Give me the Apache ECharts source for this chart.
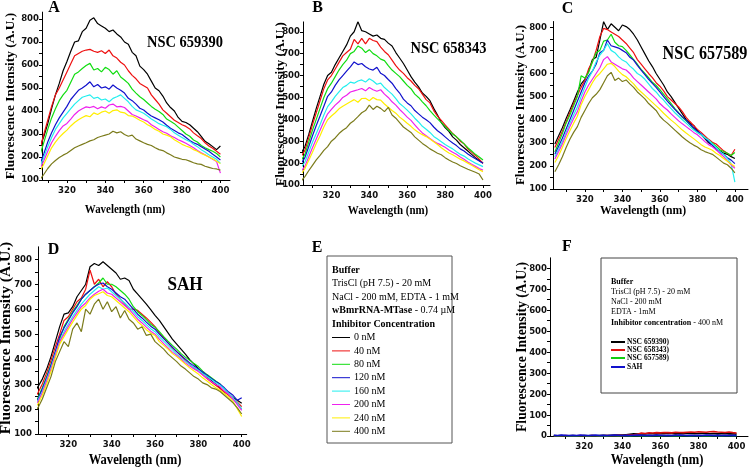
<!DOCTYPE html>
<html><head><meta charset="utf-8">
<script src="https://cdn.jsdelivr.net/npm/echarts@6/dist/echarts.min.js"></script>
<style>html,body{margin:0;padding:0;background:#fff}#c{width:750px;height:468px}</style>
</head><body><div id="c"></div><script>
// ---- data ----
const wavelengths = [304,306,308,310,312,314,316,318,320,322,324,326,328,330,332,334,336,338,340,342,344,346,348,350,352,354,356,358,360,362,364,366,368,370,372,374,376,378,380,382,384,386,388,390,392,394,396,398,400];
const concentrations = ['0 nM','40 nM','80 nM','120 nM','160 nM','200 nM','240 nM','400 nM'];
const compounds = ['NSC 659390)','NSC 658343)','NSC 657589)','SAH'];
const xTickLabels = [320,340,360,380,400];
const xTicks = [310,320,330,340,350,360,370,380,390,400];
const yTickLabels = [100,200,300,400,500,600,700,800];
const yTicks = [100,150,200,250,300,350,400,450,500,550,600,650,700,750,800];
const fYTickLabels = [0,100,200,300,400,500,600,700,800];
const fYTicks = [0,50,100,150,200,250,300,350,400,450,500,550,600,650,700,750,800];

// Panel A: NSC 659390
const A_0   = [215,245,290,345,410,470,520,575,615,660,700,705,745,760,795,805,780,770,760,745,752,735,722,700,690,655,640,595,580,560,530,500,488,465,435,415,400,372,355,350,340,325,310,290,268,258,245,232,248];
const A_40  = [205,238,300,360,420,470,500,535,570,605,640,650,660,665,668,660,655,662,650,665,640,630,612,600,575,555,540,520,510,500,470,450,430,405,390,375,360,350,340,333,322,305,292,280,262,248,238,225,212];
const A_80  = [180,210,265,320,370,410,445,470,490,525,560,570,585,598,607,578,585,570,590,580,560,575,548,535,520,495,478,462,450,435,420,408,398,385,365,355,345,330,315,300,290,274,265,250,240,232,225,215,200];
const A_120 = [145,170,215,265,305,340,370,395,420,450,470,490,500,512,527,505,515,500,505,495,513,500,490,478,455,445,430,412,404,390,378,370,362,352,338,325,315,305,298,285,272,262,255,245,235,225,212,200,187];
const A_160 = [135,158,200,245,285,320,345,370,390,410,430,445,460,465,470,455,460,448,452,440,455,462,470,455,440,420,405,398,390,378,365,355,345,338,332,320,305,295,285,275,268,255,245,232,222,210,200,190,172];
const A_200 = [125,150,185,225,262,290,315,335,346,365,385,400,410,418,415,420,410,418,412,426,430,418,420,415,400,385,378,370,362,355,340,330,320,310,303,292,285,275,268,260,250,240,228,218,210,200,190,180,130];
const A_240 = [118,140,170,205,240,265,285,302,317,335,350,362,372,380,375,392,385,395,400,390,402,405,395,392,380,378,370,360,352,340,332,320,312,300,295,288,275,265,255,248,242,232,225,215,208,200,192,182,172];
const A_400 = [85,102,125,150,170,185,198,208,216,228,240,248,255,262,270,275,285,290,295,300,312,305,310,298,290,295,278,270,262,255,250,240,232,228,218,210,200,195,190,188,182,175,170,168,160,155,150,148,143];

// Panel B: NSC 658343
const B_0   = [245,275,330,390,450,505,560,600,615,650,680,710,740,780,800,846,805,800,790,780,785,770,765,748,735,705,680,655,625,595,570,548,520,505,485,450,420,385,362,345,320,305,285,270,255,240,225,212,200];
const B_40  = [230,258,315,375,430,485,540,580,600,630,660,690,705,720,765,745,770,745,770,760,755,730,710,695,670,645,625,610,590,575,555,540,515,490,475,440,415,395,375,355,335,320,300,288,265,250,235,218,199];
const B_80  = [212,240,295,350,400,450,500,540,565,595,625,650,670,700,710,735,725,705,718,700,690,675,668,645,625,610,595,575,555,540,515,500,480,462,440,420,402,385,368,350,333,320,305,288,270,255,240,228,214];
const B_120 = [198,225,275,325,372,415,460,505,525,555,580,600,620,640,662,650,655,640,630,625,638,610,600,582,565,540,520,492,475,462,440,425,410,398,385,365,348,335,320,305,292,280,265,255,242,230,220,210,199];
const B_160 = [180,205,250,295,335,375,420,458,480,505,525,545,555,570,565,575,580,570,585,575,560,565,545,530,515,495,472,458,442,425,405,388,368,355,340,322,310,298,285,275,265,252,240,232,220,210,200,192,184];
const B_200 = [162,185,228,270,310,350,390,425,445,465,480,500,510,525,530,535,541,530,545,535,528,535,515,500,480,465,445,428,410,395,375,355,338,325,312,300,290,282,272,260,250,240,228,218,205,195,185,175,168];
const B_240 = [150,175,212,250,290,325,365,398,415,430,448,460,470,480,490,478,495,496,485,500,490,488,470,455,440,428,410,397,382,368,352,340,330,321,310,298,285,270,258,246,238,228,218,210,200,190,180,170,161];
const B_400 = [118,138,165,190,215,235,258,275,300,315,335,350,362,382,395,412,430,440,465,445,460,450,435,455,420,405,385,365,352,340,320,305,290,278,265,255,245,238,225,214,205,198,188,180,172,165,158,150,123];

// Panel C: NSC 657589
const C_0   = [295,330,365,405,442,480,520,555,575,610,660,670,745,824,790,815,800,785,810,803,790,770,745,715,685,655,630,600,575,550,520,500,475,450,425,400,385,375,352,335,318,300,290,270,265,255,250,240,232];
const C_40  = [280,315,350,390,430,470,505,540,570,620,650,700,760,795,790,780,770,760,745,730,710,690,660,640,620,600,582,560,545,525,500,485,470,455,435,410,392,375,358,345,330,315,302,295,280,265,255,245,272];
const C_80  = [260,300,340,385,420,460,500,590,580,605,650,690,700,740,745,770,735,720,716,700,680,660,640,618,600,582,562,548,530,510,490,470,448,430,410,395,380,360,345,335,322,310,298,285,270,262,255,245,258];
const C_120 = [250,285,320,360,400,440,480,520,560,590,610,640,690,700,745,720,715,710,700,690,670,658,635,615,595,575,557,540,520,500,480,462,445,428,412,398,380,365,350,338,320,305,290,275,260,250,235,225,210];
const C_160 = [240,272,305,345,385,420,455,500,540,580,610,650,680,700,730,700,690,672,658,650,632,618,600,590,575,555,535,520,500,485,465,448,430,415,400,385,370,355,345,335,322,312,295,280,262,250,232,210,130];
const C_200 = [230,262,295,335,370,405,435,480,520,550,575,600,625,660,673,650,640,630,620,615,600,580,565,550,535,520,505,490,470,455,442,425,410,395,382,370,358,345,335,320,305,292,283,270,255,240,222,205,190];
const C_240 = [215,245,280,318,352,385,415,465,500,530,560,585,600,620,640,644,630,610,595,586,570,555,535,520,505,490,475,460,445,428,413,398,385,370,355,342,330,318,305,292,282,275,268,255,245,232,220,208,197];
const C_400 = [175,205,240,280,315,345,370,410,440,470,495,510,530,560,590,605,570,580,565,572,555,540,520,505,490,470,455,440,415,398,385,370,355,340,325,312,300,290,282,270,262,256,250,238,225,212,205,190,170];

// Panel D: SAH
const D_0   = [260,290,320,360,410,470,530,580,585,610,650,675,700,770,783,775,790,775,760,745,720,725,715,680,660,640,620,598,575,555,530,505,480,460,440,420,398,380,362,345,330,315,300,285,268,258,245,235,223];
const D_40  = [240,265,300,345,395,450,500,555,570,600,630,645,680,757,700,720,690,710,690,660,640,620,600,600,595,580,565,548,530,505,485,465,445,430,412,395,380,365,352,338,322,308,295,282,268,255,240,228,210];
const D_80  = [225,245,285,330,380,430,480,530,560,590,615,640,660,675,690,705,725,700,700,690,675,660,640,610,590,575,558,540,528,510,490,472,455,440,422,408,395,382,370,352,338,325,312,300,280,262,242,222,200];
const D_120 = [222,240,280,325,375,430,490,525,555,585,610,640,660,675,690,700,705,690,680,665,650,640,620,600,580,565,548,532,520,500,482,465,448,430,415,400,385,372,360,348,335,322,310,300,285,268,255,235,245];
const D_160 = [218,235,270,318,365,420,470,510,540,570,595,620,640,660,675,690,680,685,670,655,640,625,608,590,570,555,538,522,510,490,472,455,438,420,405,392,378,366,355,342,330,318,305,295,280,262,245,225,200];
const D_200 = [212,230,265,312,360,415,470,500,530,560,585,610,625,645,660,672,680,665,660,645,630,615,600,580,560,545,528,512,500,480,462,445,428,415,400,385,372,360,350,336,322,310,298,290,272,258,240,218,195];
const D_240 = [200,220,255,300,350,405,460,490,520,548,575,600,615,640,655,662,670,655,650,635,620,605,590,570,550,535,518,505,495,470,455,440,422,410,395,380,365,352,340,325,312,298,285,275,262,248,230,200,170];
const D_400 = [190,205,240,285,330,390,430,470,450,520,545,510,600,580,620,640,600,630,590,610,565,595,560,545,520,530,495,500,470,455,440,420,405,390,372,360,345,330,320,305,298,285,280,270,255,240,225,205,180];

// Panel F: controls at 400 nM inhibitor (no enzyme)
const F_nsc659390 = [2,1,2,0,1,2,1,0,2,1,2,1,2,3,2,3,4,5,4,6,8,10,9,11,10,12,11,10,12,11,13,12,10,12,11,13,12,11,12,13,12,11,12,10,11,12,10,11,9];
const F_nsc658343 = [0,1,0,2,1,0,1,2,1,0,2,1,0,1,2,1,2,3,2,3,5,6,8,14,12,15,14,16,15,17,16,15,18,17,16,18,19,18,20,19,18,20,21,19,18,17,19,16,14];
const F_nsc657589 = [1,0,1,1,0,1,0,1,1,0,1,1,0,1,0,1,1,0,1,1,0,1,1,0,1,0,1,1,0,1,1,0,1,0,1,1,0,1,1,0,1,0,1,1,0,1,1,0,1];
const F_sah       = [3,2,4,3,2,3,2,4,3,2,3,4,2,3,2,3,4,3,2,3,2,3,4,3,2,3,2,4,3,2,3,2,3,4,3,2,3,2,3,2,4,3,2,3,2,3,2,3,2];

// ---- styling ----
const concColors = ['#000000','#ee1111','#11dd11','#1111cc','#22eeee','#ee22ee','#ffee00','#7b7b1b'];
const fColors = ['#000000','#dd1111','#11cc11','#1111cc'];
const serif = "'Liberation Serif','Times New Roman',serif";
const tickFont = "'Liberation Sans Narrow','DejaVu Sans Condensed','Liberation Sans',sans-serif";

const grids = [
  {left:42, top:12.1, width:188, height:167.9},
  {left:303, top:21.9, width:187, height:163.1},
  {left:553, top:21.5, width:195, height:167.5},
  {left:38, top:246.8, width:208.7, height:187.2},
  {left:550, top:257.8, width:198, height:178.2}
];
const xr = [[307,405],[305,403.7],[303,407],[306,402.3],[302,406]];
const yr = [[100,830],[100,845],[100,825],[100,850],[0,850]];
const yLabMargin = [3,3,6,6,3];

const xAxes = grids.map((g,i)=>({
  type:'value', gridIndex:i, min:xr[i][0], max:xr[i][1],
  axisLine:{show:true,onZero:false,lineStyle:{color:'#000',width:1}},
  axisTick:{show:true,inside:false,length:3,customValues:xTicks,lineStyle:{color:'#000'}},
  axisLabel:{customValues:xTickLabels,margin:6,fontSize:9.5,fontWeight:'bold',color:'#111',fontFamily:tickFont},
  splitLine:{show:false}
}));
const yAxes = grids.map((g,i)=>({
  type:'value', gridIndex:i, min:yr[i][0], max:yr[i][1],
  axisLine:{show:true,onZero:false,lineStyle:{color:'#000',width:1}},
  axisTick:{show:true,inside:false,length:3,customValues:(i===4?fYTicks:yTicks),lineStyle:{color:'#000'}},
  axisLabel:{customValues:(i===4?fYTickLabels:yTickLabels),margin:yLabMargin[i],fontSize:9.5,fontWeight:'bold',color:'#111',fontFamily:tickFont},
  splitLine:{show:false}
}));

function lineSeries(idx, values, color, width, name){
  return {type:'line', name:name, xAxisIndex:idx, yAxisIndex:idx,
    data: wavelengths.map((w,k)=>[w, values[k]]),
    showSymbol:false, symbol:'none', clip:true, silent:true,
    lineStyle:{color:color,width:width}, itemStyle:{color:color}};
}
const panels = [
  [A_0,A_40,A_80,A_120,A_160,A_200,A_240,A_400],
  [B_0,B_40,B_80,B_120,B_160,B_200,B_240,B_400],
  [C_0,C_40,C_80,C_120,C_160,C_200,C_240,C_400],
  [D_0,D_40,D_80,D_120,D_160,D_200,D_240,D_400]
];
const series = [];
panels.forEach((p,pi)=>p.forEach((vals,si)=>series.push(lineSeries(pi, vals, concColors[si], 1.2, concentrations[si]))));
[F_nsc659390,F_nsc658343,F_nsc657589,F_sah].forEach((vals,si)=>series.push(lineSeries(4, vals, fColors[si], 1.6, compounds[si])));

// ---- graphic texts ----
function txt(x,y,text,font,opts){
  opts = opts||{};
  return Object.assign({type:'text', x:x, y:y, silent:true,
    style:Object.assign({text:text, font:font, fill:'#000', align:opts.align||'center', verticalAlign:'middle', textAlign:opts.align||'center', textVerticalAlign:'middle'}, opts.style||{})},
    opts.el||{});
}
const g = [];
// panel letters
[['A',54,8],['B',317.5,8],['C',567.5,8.5],['D',53.5,250],['E',317,248],['F',567,247]].forEach(a=>g.push(txt(a[1],a[2],a[0],'bold 16px '+serif)));
// panel names
g.push(txt(185,43,'NSC 659390','bold 17px '+serif,{el:{scaleX:0.85}}));
g.push(txt(448.5,49,'NSC 658343','bold 17px '+serif,{el:{scaleX:0.85}}));
g.push(txt(705,54,'NSC 657589','bold 19px '+serif,{el:{scaleX:0.85}}));
g.push(txt(185,285,'SAH','bold 19px '+serif,{el:{scaleX:0.9}}));
// x titles
[[125,210,13,0.84],[388,211,13,0.84],[643,211,13,0.9],[135,460,14,0.9],[657,460,14,0.9]].forEach(a=>g.push(txt(a[0],a[1],'Wavelength (nm)','bold '+a[2]+'px '+serif,{el:{scaleX:a[3]}})));
// y titles
[[11,96,13.4],[280.5,104,13.2],[520.5,105,12.9],[6,338,15.5],[522.5,347,13.7]].forEach(a=>g.push(txt(a[0],a[1],'Fluorescence Intensity (A.U.)','bold '+a[2]+'px '+serif,{el:{rotation:Math.PI/2}})));

// Panel E legend box
g.push({type:'rect', shape:{x:327,y:256,width:125,height:187}, style:{fill:'#fff',stroke:'#555',lineWidth:1}, silent:true});
const eFont = '10px '+serif, eBold = 'bold 10px '+serif;
g.push(txt(332,270,'Buffer',eBold,{align:'left'}));
g.push(txt(332,283.5,'TrisCl (pH 7.5) - 20 mM',eFont,{align:'left'}));
g.push(txt(332,297,'NaCl - 200 mM, EDTA - 1 mM',eFont,{align:'left'}));
g.push(txt(332,310.5,'{b|wBmrRNA-MTase} - 0.74 \u00b5M',eFont,{align:'left',style:{rich:{b:{font:eBold}}}}));
g.push(txt(332,324,'Inhibitor Concentration',eBold,{align:'left'}));
concentrations.forEach((c,k)=>{
  const y = 337.5 + 13.4*k;
  g.push({type:'line', shape:{x1:332,y1:y,x2:350,y2:y}, style:{stroke:concColors[k],lineWidth:1}, silent:true});
  g.push(txt(354,y,c,eFont,{align:'left'}));
});

// Panel F legend box
g.push({type:'rect', shape:{x:601,y:258,width:136,height:135}, style:{fill:'#fff',stroke:'#444',lineWidth:1}, silent:true});
const fFont = '8px '+serif, fBold = 'bold 8px '+serif;
g.push(txt(611,282,'Buffer',fBold,{align:'left'}));
g.push(txt(611,292,'TrisCl (pH 7.5) - 20 mM',fFont,{align:'left'}));
g.push(txt(611,302,'NaCl - 200 mM',fFont,{align:'left'}));
g.push(txt(611,312,'EDTA - 1mM',fFont,{align:'left'}));
g.push(txt(611,323,'{b|Inhibitor concentration} - 400 nM',fFont,{align:'left',style:{rich:{b:{font:fBold}}}}));
compounds.forEach((c,k)=>{
  const y = [342,350,358,367][k];
  g.push({type:'line', shape:{x1:611,y1:y,x2:625,y2:y}, style:{stroke:fColors[k],lineWidth:2}, silent:true});
  g.push(txt(627,y,c,'bold 7.5px '+serif,{align:'left'}));
});

const chart = echarts.init(document.getElementById('c'), null, {renderer:'canvas'});
chart.setOption({
  animation:false,
  backgroundColor:'#fff',
  grid: grids.map(gr=>Object.assign({containLabel:false}, gr)),
  xAxis: xAxes,
  yAxis: yAxes,
  series: series,
  graphic: {elements: g}
});
</script></body></html>
